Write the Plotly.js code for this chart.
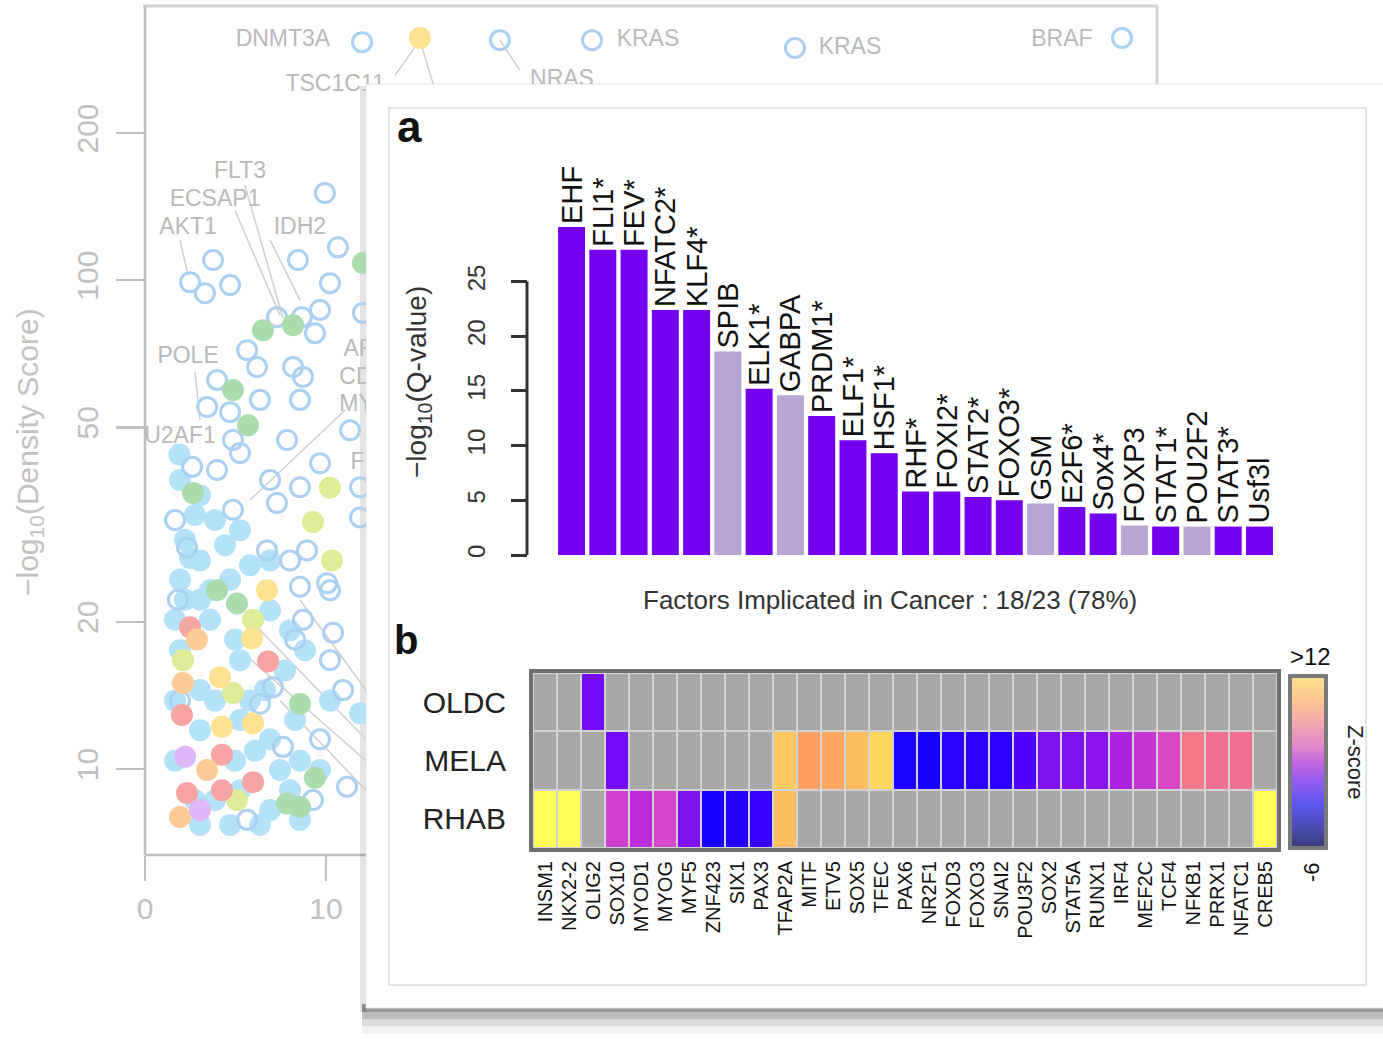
<!DOCTYPE html>
<html>
<head>
<meta charset="utf-8">
<script src="https://cdn.plot.ly/plotly-3.0.1.min.js"></script>
<style>html,body{margin:0;padding:0;background:#fff;}#chart{width:1383px;height:1039px;}</style>
</head>
<body>
<div id="chart"></div>
<script>
// ---------------- DATA ----------------
// Panel a: enrichment bars
const factorNames = ["EHF","FLI1*","FEV*","NFATC2*","KLF4*","SPIB","ELK1*","GABPA","PRDM1*","ELF1*","HSF1*","RHF*","FOXI2*","STAT2*","FOXO3*","GSM","E2F6*","Sox4*","FOXP3","STAT1*","POU2F2","STAT3*","Usf3l"];
const factorQ = [30.0, 27.9, 27.9, 22.4, 22.4, 18.6, 15.2, 14.6, 12.7, 10.5, 9.3, 5.8, 5.8, 5.3, 5.0, 4.7, 4.4, 3.8, 2.7, 2.6, 2.6, 2.6, 2.6];
const implicated = [1,1,1,1,1,0,1,0,1,1,1,1,1,1,1,0,1,1,0,1,0,1,1];
const barTicks = [0, 5, 10, 15, 20, 25];

// Panel b: z-score heatmap
const heatCols = ["INSM1","NKX2-2","OLIG2","SOX10","MYOD1","MYOG","MYF5","ZNF423","SIX1","PAX3","TFAP2A","MITF","ETV5","SOX5","TFEC","PAX6","NR2F1","FOXD3","FOXO3","SNAI2","POU3F2","SOX2","STAT5A","RUNX1","IRF4","MEF2C","TCF4","NFKB1","PRRX1","NFATC1","CREB5"];
const heatRows = ["RHAB","MELA","OLDC"];
const OLDC = [null,null,-1.1,null,null,null,null,null,null,null,null,null,null,null,null,null,null,null,null,null,null,null,null,null,null,null,null,null,null,null,null];
const MELA = [null,null,null,-1.1,null,null,null,null,null,null,10.2,8.4,8.8,9.8,10.7,-4.7,-5.1,-3.8,-3.7,-3.7,-2.4,-0.6,-0.6,-0.1,1.6,2.5,3.5,6.2,5.7,5.7,null];
const RHAB = [12,12,null,3.0,2.1,3.4,-0.6,-5.1,-4.2,-3.3,9.8,null,null,null,null,null,null,null,null,null,null,null,null,null,null,null,null,null,null,null,12];
const zMin = -6, zMax = 12;

// Background figure: density-score scatter
const bgX = [1.93,3.04,3.87,2.21,3.04,4.42,5.25,1.93,3.04,4.70,5.80,6.91,1.66,3.59,4.97,6.91,8.01,1.66,3.04,5.25,6.63,7.73,8.84,3.04,5.25,6.91,8.29,1.66,4.97,7.46,8.56,2.76,5.25,6.91,3.04,4.70,6.35,8.01,9.67,1.93,3.87,6.08,3.87,8.56,2.21,2.76,10.22,11.88,3.59,5.80,1.90,2.50,
 9.94,3.76,2.49,3.31,4.70,8.45,10.66,10.22,9.67,8.67,7.29,9.39,5.64,6.19,8.18,8.73,3.98,3.43,4.70,6.35,8.56,7.85,11.33,4.86,5.25,2.60,3.98,6.91,8.56,9.67,11.88,7.29,4.86,6.74,8.95,2.32,8.56,10.06,11.88,12.04,10.22,8.73,10.39,10.22,10.94,9.67,11.16,7.62,6.35,7.07,9.28,5.64,1.66,1.82,1.93,8.01,8.29,11.99,19.61,24.70,35.91,53.98,
 12.04,6.52,8.18,4.86,5.69,2.65,3.98,5.08,8.56,9.39,7.85,8.56,
 10.22,9.28,10.33,5.97,2.10,4.86,5.08,
 6.74,5.91,4.14,5.97,4.25,15.19,
 2.49,6.80,2.04,4.25,5.97,2.32,4.25,
 2.87,2.10,3.43,1.93,
 2.21,3.04];
const bgY = [39.0,36.3,32.3,29.4,26.7,28.7,30.8,24.4,22.2,24.4,26.1,26.7,20.2,20.2,18.4,21.1,19.2,13.8,14.5,16.7,14.5,15.9,17.5,12.0,12.6,11.5,12.6,10.4,10.4,9.95,10.4,8.64,9.05,8.24,7.68,7.68,7.68,9.05,9.95,17.5,13.8,10.9,8.64,7.87,22.2,33.1,13.8,13.0,23.2,13.8,44.0,27.0,
 150.7,109.9,99.0,94.0,97.7,109.9,116.7,98.6,86.9,84.0,84.0,77.9,71.9,66.4,66.4,63.4,62.5,55.0,53.7,56.9,56.9,47.1,49.3,47.1,44.3,41.5,40.9,39.0,37.7,42.2,32.7,35.0,33.9,28.0,28.0,28.4,23.6,24.0,37.7,85.7,23.2,20.2,19.0,16.7,14.5,11.5,9.2,11.1,13.6,14.7,8.64,7.87,32.3,22.2,13.8,26.7,18.4,306.8,309.7,309.7,298.5,312.7,
 108.4,79.0,80.9,59.6,50.5,36.7,23.2,21.8,13.6,9.6,8.5,8.36,
 37.6,32.0,26.7,20.2,16.7,14.3,8.64,
 23.2,18.5,15.4,12.4,12.2,312.7,
 19.5,16.6,12.9,10.7,9.4,8.93,9.05,
 18.4,15.0,9.95,7.98,
 10.6,8.24];
const bgGroup = [].concat(
  Array(52).fill("blue"),
  Array(62).fill("open"),
  Array(12).fill("green"),
  Array(7).fill("lime"),
  Array(6).fill("yellow"),
  Array(7).fill("red"),
  Array(4).fill("orange"),
  Array(2).fill("violet"));
const bgLabelText = ["DNMT3A","TSC1C11","KRAS","KRAS","BRAF","NRAS","FLT3","ECSAP1","AKT1","IDH2","POLE","U2AF1","ARID1A","CDK4","MYC","FBXW7"];
const bgLabelX = [7.62,10.50,27.79,38.95,50.66,23.04,5.25,3.87,2.38,8.56,2.38,1.93,13.26,12.43,12.15,13.54];
const bgLabelY = [309.7,250.5,309.7,298.5,309.7,256.4,166.3,145.9,127.6,127.6,69.6,47.8,71.9,63.0,55.5,42.2];
const leadX = [5.52,7.62,null,4.97,7.46,null,1.93,2.38,null,6.91,8.56,null,2.76,3.04,null,1.93,2.21,null,15.19,13.81,null,15.19,16.02,null,19.61,20.72,null,5.25,12.21,null,5.80,12.21,null,7.46,12.21,null,8.56,12.21,null,5.80,11.05];
const leadY = [156.3,83.6,null,139.0,84.7,null,120.8,102.3,null,120.8,91.0,null,64.9,51.8,null,44.9,37.2,null,309.7,262.4,null,309.7,244.9,null,309.7,268.5,null,17.5,10.4,null,20.2,11.5,null,13.8,9.05,null,22.2,14.5,null,35.5,54.2];
const bgTicks = [10, 20, 50, 100, 200];

// ---------------- LAYOUT HELPERS ----------------
const W = 1383, H = 1039;
const PX = v => v / W;
const PY = v => 1 - v / H;
const FONT = "Liberation Sans, Arial, Helvetica, sans-serif";

const groupStyle = {
  blue:   {color: "#b4e2f8", size: 22, open: false},
  open:   {color: "#abd0f2", size: 19, open: true},
  green:  {color: "#aadcae", size: 22, open: false},
  lime:   {color: "#dfeb96", size: 22, open: false},
  yellow: {color: "#fde292", size: 22, open: false},
  red:    {color: "#f6a4a4", size: 22, open: false},
  orange: {color: "#fdcb96", size: 22, open: false},
  violet: {color: "#dfb6f7", size: 22, open: false}
};

const traces = [];
const bgAxes = [["x","y"],["x4","y4"]];
// background scatter, drawn in both clipped background panels
bgAxes.forEach(([xa, ya]) => {
  traces.push({type:"scatter", mode:"lines", x:leadX, y:leadY, xaxis:xa, yaxis:ya,
    line:{color:"#cfcfcf", width:1.5}, connectgaps:false, hoverinfo:"skip"});
  ["blue","open","green","lime","yellow","red","orange","violet"].forEach(g => {
    const xs = [], ys = [];
    bgGroup.forEach((gg, i) => { if (gg === g) { xs.push(bgX[i]); ys.push(bgY[i]); } });
    const st = groupStyle[g];
    traces.push({type:"scatter", mode:"markers", x:xs, y:ys, xaxis:xa, yaxis:ya, hoverinfo:"skip",
      marker: st.open ? {symbol:"circle-open", size:st.size, color:st.color, line:{width:3, color:st.color}}
                      : {symbol:"circle", size:st.size, color:st.color, line:{width:0}}});
  });
  traces.push({type:"scatter", mode:"text", x:bgLabelX, y:bgLabelY, text:bgLabelText, xaxis:xa, yaxis:ya,
    textfont:{family:FONT, size:23, color:"#b9b9b9"}, hoverinfo:"skip"});
});

// panel a bars
const nImpl = implicated.reduce((a, b) => a + b, 0);
traces.push({type:"bar", x:factorNames, y:factorQ, xaxis:"x2", yaxis:"y2",
  marker:{color: implicated.map(v => v ? "#7400ee" : "#b7a6d3"), line:{width:0}},
  text:factorNames, textposition:"outside", textangle:-90, constraintext:"none", cliponaxis:false,
  textfont:{family:FONT, size:29, color:"#111"}, hoverinfo:"skip"});

// panel b heatmap: missing-cell mask + values
const zVals = [RHAB, MELA, OLDC];
const zMask = zVals.map(r => r.map(v => v === null ? 1 : null));
traces.push({type:"heatmap", x:heatCols, y:heatRows, z:zMask, xaxis:"x3", yaxis:"y3",
  colorscale:[[0,"#a8a8a8"],[1,"#a8a8a8"]], showscale:false, xgap:2, ygap:2, hoverinfo:"skip"});
traces.push({type:"heatmap", x:heatCols, y:heatRows, z:zVals, xaxis:"x3", yaxis:"y3",
  zmin:zMin, zmax:zMax, showscale:false, xgap:2, ygap:2, hoverinfo:"skip",
  colorscale:[[0,"#0800ff"],[0.12,"#2a00ff"],[0.2,"#5000ff"],[0.3,"#8010f0"],[0.42,"#b020e0"],[0.5,"#d040d0"],[0.55,"#e050c0"],[0.65,"#f07090"],[0.7,"#f58080"],[0.8,"#ffa060"],[0.9,"#ffc860"],[1,"#ffff55"]]});
// colour key
traces.push({type:"scatter", mode:"markers", x:[null], y:[null], xaxis:"x", yaxis:"y", hoverinfo:"skip",
  marker:{color:[zMin], cmin:zMin, cmax:zMax, showscale:true,
    colorscale:[[0,"#3c3c78"],[0.12,"#4a4ab2"],[0.25,"#5a56f0"],[0.4,"#9a5cf0"],[0.5,"#c468e0"],[0.6,"#e58acb"],[0.72,"#f3a6b0"],[0.85,"#fcc492"],[1,"#fee58c"]],
    colorbar:{x:PX(1290), xanchor:"left", y:PY(761.5), yanchor:"middle", len:172, lenmode:"pixels",
      thickness:36, thicknessmode:"pixels", outlinewidth:4, outlinecolor:"#7a7a7a",
      showticklabels:false, ticks:"", xpad:0, ypad:0, borderwidth:0}}});

// ---------------- SHAPES ----------------
const rect = (x0, y0, x1, y1, o) => Object.assign({type:"rect", layer:"below", xref:"paper", yref:"paper",
  x0:PX(x0), x1:PX(x1), y0:PY(y1), y1:PY(y0), line:{width:0}}, o);
const line = (x0, y0, x1, y1, color, width) => ({type:"line", layer:"below", xref:"paper", yref:"paper",
  x0:PX(x0), x1:PX(x1), y0:PY(y0), y1:PY(y1), line:{color, width}});
const shapes = [
  line(143, 6, 1158, 6, "#d2d2d2", 3),
  line(1157, 6, 1157, 90, "#d2d2d2", 3),
  line(145, 6, 145, 855, "#bdbdbd", 2.5),
  line(145, 855, 370, 855, "#bdbdbd", 2.5),
  rect(360, 86, 367, 1012, {fillcolor:"rgba(0,0,0,0.10)"}),
  rect(362, 1004, 1383, 1012, {fillcolor:"rgba(0,0,0,0.40)"}),
  rect(362, 1012, 1383, 1019, {fillcolor:"rgba(0,0,0,0.26)"}),
  rect(362, 1019, 1383, 1026, {fillcolor:"rgba(0,0,0,0.14)"}),
  rect(362, 1026, 1383, 1034, {fillcolor:"rgba(0,0,0,0.05)"}),
  rect(366, 84, 1390, 1008, {fillcolor:"#ffffff", line:{color:"#e4e4e4", width:1}}),
  rect(389, 108, 1366, 985, {fillcolor:"rgba(0,0,0,0)", line:{color:"#dcdcdc", width:1.5}}),
  {type:"line", layer:"below", xref:"paper", yref:"y2", x0:PX(527), x1:PX(527), y0:0, y1:25, line:{color:"#333", width:3}},
  rect(533, 673, 1277, 848, {fillcolor:"#d2d2d2"}),
  rect(531, 671, 1279, 850, {layer:"above", fillcolor:"rgba(0,0,0,0)", line:{color:"#6f6f6f", width:4}})
];

// ---------------- ANNOTATIONS ----------------
const ann = (x, y, text, size, color, o) => Object.assign({xref:"paper", yref:"paper", x:PX(x), y:PY(y),
  text, showarrow:false, xanchor:"center", yanchor:"middle", font:{family:FONT, size, color}}, o);
const annotations = [
  ann(30, 452, "\u2212log<sub>10</sub>(Density Score)", 30, "#c2c2c2", {textangle:-90}),
  ann(409, 126, "<b>a</b>", 44, "#111"),
  ann(406, 640, "<b>b</b>", 40, "#111"),
  ann(418, 382, "\u2212log<sub>10</sub>(Q-value)", 28, "#333", {textangle:-90}),
  ann(890, 600, `Factors Implicated in Cancer : ${nImpl}/${factorNames.length} (${Math.round(100*nImpl/factorNames.length)}%)`, 26, "#333"),
  ann(1310, 656, "&gt;" + zMax, 24, "#111"),
  ann(1311, 872, String(zMin), 22, "#111", {textangle:-90}),
  ann(1356, 762, "Z-score", 22, "#222", {textangle:90})
];

// ---------------- LAYOUT ----------------
const hidden = {visible:false, showgrid:false, zeroline:false};
const layout = {
  width:W, height:H, margin:{l:0, r:0, t:0, b:0},
  paper_bgcolor:"#ffffff", plot_bgcolor:"rgba(0,0,0,0)", showlegend:false,
  font:{family:FONT}, bargap:0.137,
  // background panel (left part)
  xaxis:{domain:[PX(145), PX(366)], range:[0, 12.21], anchor:"y", tickvals:[0, 10], ticks:"outside",
    ticklen:25, tickwidth:2.5, tickcolor:"#c0c0c0", tickfont:{size:30, color:"#c0c0c0"},
    showgrid:false, zeroline:false, showline:false, ticklabelstandoff:2},
  yaxis:{domain:[PY(855), PY(5)], type:"log", range:[0.8241, 2.5628], anchor:"x", tickvals:bgTicks,
    ticktext:bgTicks.map(String), ticks:"outside", ticklen:28, tickwidth:2.5, tickcolor:"#c0c0c0",
    tickangle:-90, tickfont:{size:30, color:"#c0c0c0"}, showgrid:false, zeroline:false, showline:false,
    ticklabelstandoff:6},
  // background panel (top strip)
  xaxis4:Object.assign({domain:[PX(366), PX(1158)], range:[12.21, 55.97], anchor:"y4"}, hidden),
  yaxis4:Object.assign({domain:[PY(84), PY(5)], type:"log", range:[2.4012, 2.5628], anchor:"x4"}, hidden),
  // panel a
  xaxis2:{domain:[PX(555.9), PX(1275.1)], range:[-0.5, 22.5], anchor:"y2", type:"category",
    showticklabels:false, ticks:"", showgrid:false, zeroline:false, showline:false},
  yaxis2:{domain:[PY(555), PY(205)], range:[0, 32], anchor:"free", position:PX(527),
    tickvals:barTicks, ticks:"outside", ticklen:16, tickwidth:3, tickcolor:"#333", tickangle:-90,
    tickfont:{size:24, color:"#333"}, ticklabelstandoff:16, showgrid:false, zeroline:false, showline:false},
  // panel b
  xaxis3:{domain:[PX(533), PX(1277)], anchor:"y3", type:"category", tickmode:"array", tickvals:heatCols,
    ticktext:heatCols, tickangle:-90, ticks:"",
    tickfont:{size:20, color:"#111"}, showgrid:false, zeroline:false, showline:false, ticklabelstandoff:8},
  yaxis3:{domain:[PY(848), PY(673)], anchor:"x3", type:"category", ticks:"",
    tickfont:{size:30, color:"#222"}, showgrid:false, zeroline:false, showline:false, ticklabelstandoff:26},
  shapes, annotations
};

Plotly.newPlot("chart", traces, layout, {staticPlot:true, displayModeBar:false});
</script>
</body>
</html>
